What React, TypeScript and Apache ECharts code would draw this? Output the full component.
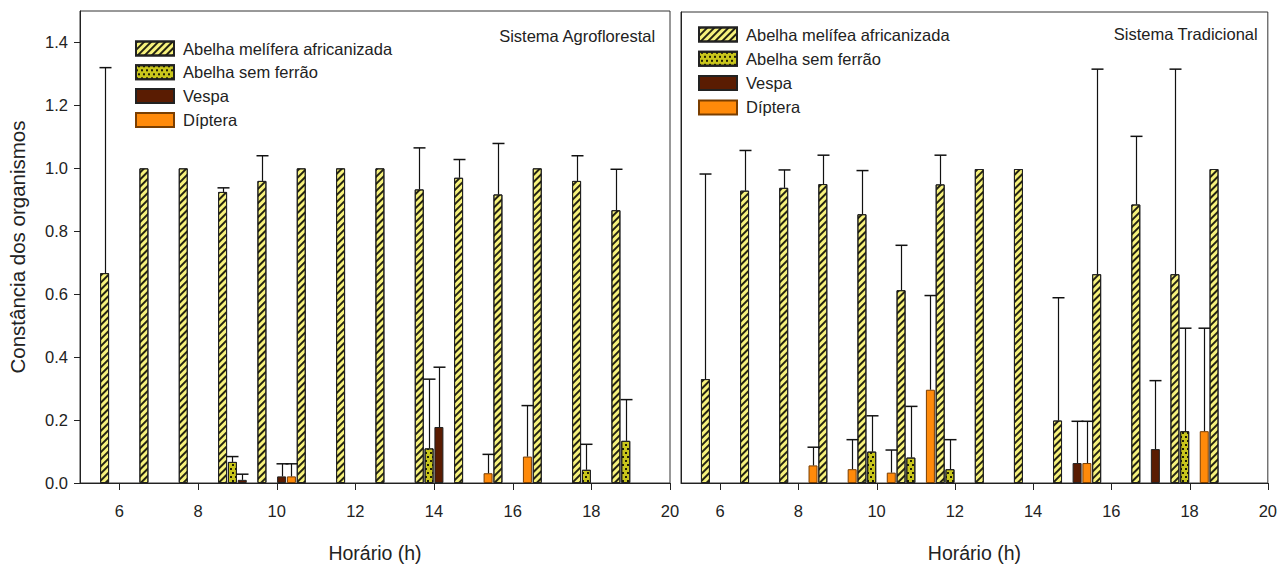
import React, { useEffect, useRef } from "react";
import * as echarts from "echarts";

const hours = [6, 7, 8, 9, 10, 11, 12, 13, 14, 15, 16, 17, 18, 19];
const xTicks = [6, 8, 10, 12, 14, 16, 18, 20];

const speciesAF = ["Abelha melífera africanizada", "Abelha sem ferrão", "Vespa", "Díptera"];
const speciesTR = ["Abelha melífea africanizada", "Abelha sem ferrão", "Vespa", "Díptera"];

// Sistema Agroflorestal — means
const afAfricanizada = [0.667, 1, 1, 0.925, 0.96, 1, 1, 1, 0.933, 0.97, 0.917, 1, 0.96, 0.867];
const afSemFerrao = [null, null, null, 0.067, null, null, null, null, 0.11, null, null, null, 0.042, 0.134];
const afVespa = [null, null, null, 0.01, 0.021, null, null, null, 0.178, null, null, null, null, null];
const afDiptera = [null, null, null, null, 0.021, null, null, null, null, 0.031, 0.084, null, null, null];
// Sistema Agroflorestal — standard deviations
const afAfricanizadaSd = [0.653, 0, 0, 0.013, 0.08, 0, 0, 0, 0.132, 0.058, 0.162, 0, 0.08, 0.13];
const afSemFerraoSd = [0, 0, 0, 0.017, 0, 0, 0, 0, 0.22, 0, 0, 0, 0.081, 0.131];
const afVespaSd = [0, 0, 0, 0.018, 0.04, 0, 0, 0, 0.19, 0, 0, 0, 0, 0];
const afDipteraSd = [0, 0, 0, 0, 0.04, 0, 0, 0, 0, 0.06, 0.162, 0, 0, 0];

// Sistema Tradicional — means
const trAfricanizada = [0.331, 0.931, 0.94, 0.952, 0.856, 0.614, 0.951, 1, 1, 0.199, 0.665, 0.887, 0.665, 1];
const trSemFerrao = [null, null, null, null, 0.1, 0.081, 0.044, null, null, null, null, null, 0.165, null];
const trVespa = [null, null, null, null, null, null, null, null, null, 0.0635, null, 0.108, null, null];
const trDiptera = [null, null, 0.056, 0.044, 0.033, 0.297, null, null, null, 0.0635, null, null, 0.165, null];
// Sistema Tradicional — standard deviations
const trAfricanizadaSd = [0.653, 0.128, 0.057, 0.092, 0.139, 0.143, 0.093, 0, 0, 0.391, 0.653, 0.217, 0.653, 0];
const trSemFerraoSd = [0, 0, 0, 0, 0.114, 0.163, 0.094, 0, 0, 0, 0, 0, 0.328, 0];
const trVespaSd = [0, 0, 0, 0, 0, 0, 0, 0, 0, 0.133, 0, 0.218, 0, 0];
const trDipteraSd = [0, 0, 0.058, 0.094, 0.072, 0.3, 0, 0, 0, 0.133, 0, 0, 0.328, 0];

const FONT = "'Liberation Sans', Arial, sans-serif";
const OFFSETS = [-0.375, -0.125, 0.125, 0.375];

const styles = [
  {
    color: "#f7f27c",
    borderColor: "#222",
    borderWidth: 1,
    decal: {
      symbol: "rect",
      symbolSize: 1,
      color: "rgba(0,0,0,0.85)",
      dashArrayX: [1, 0],
      dashArrayY: [1.4, 2.4],
      rotation: -Math.PI / 4,
    },
  },
  {
    color: "#c9c61c",
    borderColor: "#222",
    borderWidth: 1,
    decal: {
      symbol: "rect",
      symbolSize: 1,
      color: "rgba(0,0,0,0.85)",
      dashArrayX: [[1.5, 2.5], [0, 2, 1.5, 0.5]],
      dashArrayY: [1.5, 1.5],
      rotation: 0,
    },
  },
  { color: "#5a1c02", borderColor: "#222", borderWidth: 1 },
  { color: "#ff8a0a", borderColor: "#7a3e00", borderWidth: 1 },
];

function buildPanel(
  gridIndex: number,
  names: string[],
  means: (number | null)[][],
  sds: number[][]
) {
  const series: any[] = [];
  const errData: number[][] = [];
  means.forEach((arr, i) => {
    const data: any[] = [];
    arr.forEach((v, j) => {
      if (v === null) return;
      const x = hours[j] + OFFSETS[i];
      data.push([x, v]);
      if (sds[i][j] > 0) errData.push([x, v, v + sds[i][j]]);
    });
    series.push({
      type: "bar",
      name: names[i],
      xAxisIndex: gridIndex,
      yAxisIndex: gridIndex,
      barWidth: 9,
      barGap: "-100%",
      itemStyle: styles[i],
      data,
      z: 2,
    });
  });
  series.push({
    type: "custom",
    xAxisIndex: gridIndex,
    yAxisIndex: gridIndex,
    data: errData,
    z: 5,
    silent: true,
    renderItem: (params: any, api: any) => {
      const x = api.value(0);
      const p0 = api.coord([x, api.value(1)]);
      const p1 = api.coord([x, api.value(2)]);
      const cx = Math.round(p0[0]) + 0.5;
      return {
        type: "group",
        children: [
          {
            type: "line",
            shape: { x1: cx, y1: p0[1], x2: cx, y2: p1[1] },
            style: { stroke: "#111", lineWidth: 1.2 },
          },
          {
            type: "line",
            shape: { x1: cx - 6, y1: p1[1], x2: cx + 6, y2: p1[1] },
            style: { stroke: "#111", lineWidth: 1.5 },
          },
        ],
      };
    },
  });
  series.push({
    type: "custom",
    xAxisIndex: gridIndex,
    yAxisIndex: gridIndex,
    data: xTicks.map((t) => [t, 0]),
    silent: true,
    clip: false,
    z: 5,
    renderItem: (params: any, api: any) => {
      const p = api.coord([api.value(0), 0]);
      const cx = Math.round(p[0]) + 0.5;
      return {
        type: "line",
        shape: { x1: cx, y1: p[1], x2: cx, y2: p[1] + 7 },
        style: { stroke: "#222", lineWidth: 1 },
      };
    },
  });
  return series;
}

export default function App() {
  const ref = useRef<HTMLDivElement>(null);
  useEffect(() => {
    if (!ref.current) return;
    const chart = echarts.init(ref.current, undefined, { renderer: "svg" });
    const xAxisBase = (gridIndex: number) => ({
      type: "value",
      gridIndex,
      min: 5,
      max: 20,
      interval: 1,
      splitLine: { show: false },
      axisTick: { show: false },
      axisLine: { onZero: false, lineStyle: { color: "#222", width: 1 } },
      axisLabel: {
        formatter: (v: number) => (v % 2 === 0 ? String(v) : ""),
        color: "#222",
        fontSize: 16.5,
        fontFamily: FONT,
        margin: 19,
        showMinLabel: false,
      },
      name: "Horário (h)",
      nameLocation: "middle",
      nameGap: 60,
      nameTextStyle: { color: "#222", fontSize: 19.5, fontFamily: FONT },
    });
    const legendText = { fontSize: 16.5, color: "#222", fontFamily: FONT, padding: [0, 0, 0, 4] };
    const option: any = {
      animation: false,
      backgroundColor: "#fff",
      title: [
        {
          text: "Sistema Agroflorestal",
          right: 619,
          top: 22,
          textStyle: { fontSize: 16.5, fontWeight: "normal", color: "#222", fontFamily: FONT },
        },
        {
          text: "Sistema Tradicional",
          right: 17,
          top: 20,
          textStyle: { fontSize: 16.5, fontWeight: "normal", color: "#222", fontFamily: FONT },
        },
      ],
      legend: [
        {
          data: speciesAF,
          orient: "vertical",
          icon: "rect",
          left: 130,
          top: 35,
          itemWidth: 38,
          itemHeight: 14,
          itemGap: 6.8,
          selectedMode: false,
          textStyle: legendText,
        },
        {
          data: speciesTR,
          orient: "vertical",
          icon: "rect",
          left: 693,
          top: 21,
          itemWidth: 38,
          itemHeight: 14,
          itemGap: 7.3,
          selectedMode: false,
          textStyle: legendText,
        },
      ],
      grid: [
        { left: 80, right: 610, top: 11, bottom: 77, show: true, borderColor: "#333", borderWidth: 1, backgroundColor: "transparent" },
        { left: 681, right: 9, top: 12, bottom: 77, show: true, borderColor: "#333", borderWidth: 1, backgroundColor: "transparent" },
      ],
      xAxis: [xAxisBase(0), xAxisBase(1)],
      yAxis: [
        {
          type: "value",
          gridIndex: 0,
          min: 0,
          max: 1.5,
          interval: 0.2,
          splitLine: { show: false },
          axisLine: { show: true, lineStyle: { color: "#222" } },
          axisTick: { show: true, length: 6, lineStyle: { color: "#222" } },
          axisLabel: {
            formatter: (v: number) => v.toFixed(1),
            color: "#222",
            fontSize: 16.5,
            fontFamily: FONT,
            margin: 12,
            showMaxLabel: false,
          },
          name: "Constância dos organismos",
          nameLocation: "middle",
          nameGap: 52,
          nameTextStyle: { color: "#222", fontSize: 20.5, fontFamily: FONT },
        },
        {
          type: "value",
          gridIndex: 1,
          min: 0,
          max: 1.5,
          interval: 0.2,
          splitLine: { show: false },
          axisLine: { show: true, lineStyle: { color: "#222" } },
          axisTick: { show: false },
          axisLabel: { show: false },
        },
      ],
      series: [
        ...buildPanel(
          0,
          speciesAF,
          [afAfricanizada, afSemFerrao, afVespa, afDiptera],
          [afAfricanizadaSd, afSemFerraoSd, afVespaSd, afDipteraSd]
        ),
        ...buildPanel(
          1,
          speciesTR,
          [trAfricanizada, trSemFerrao, trVespa, trDiptera],
          [trAfricanizadaSd, trSemFerraoSd, trVespaSd, trDipteraSd]
        ),
      ],
    };
    chart.setOption(option);
    return () => chart.dispose();
  }, []);
  return (
    <div
      ref={ref}
      style={{ position: "absolute", left: 0, top: 0, width: 1280, height: 568, background: "#fff" }}
    />
  );
}
